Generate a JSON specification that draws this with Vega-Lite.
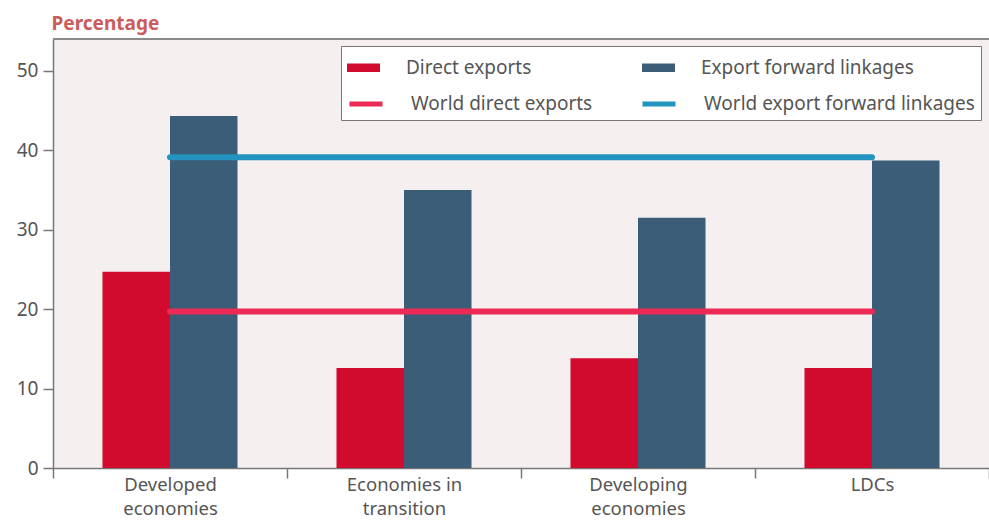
{
  "$schema": "https://vega.github.io/schema/vega-lite/v6.json",
  "autosize": {"type": "none"},
  "padding": {"left": 53, "top": 39, "right": 0, "bottom": 55},
  "width": 936,
  "height": 429,
  "background": "white",
  "config": {
    "font": "Noto Sans",
    "view": {"fill": "#f6eff0", "stroke": null},
    "axis": {"labelFont": "Noto Sans", "labelFontSize": 19, "labelColor": "#555555", "domainColor": "#777777", "tickColor": "#777777", "domainWidth": 1.5, "tickWidth": 1.5, "grid": false},
    "legend": {"labelFont": "Noto Sans", "labelFontSize": 19, "labelColor": "#555555", "labelLimit": 400, "labelOffset": 26, "symbolSize": 1089, "symbolOpacity": 1}
  },
  "data": {
    "values": [
      {"category": "Developed economies", "series": "Direct exports", "value": 24.7, "type": "bar"},
      {"category": "Developed economies", "series": "Export forward linkages", "value": 44.3, "type": "bar"},
      {"category": "Economies in transition", "series": "Direct exports", "value": 12.6, "type": "bar"},
      {"category": "Economies in transition", "series": "Export forward linkages", "value": 35.0, "type": "bar"},
      {"category": "Developing economies", "series": "Direct exports", "value": 13.8, "type": "bar"},
      {"category": "Developing economies", "series": "Export forward linkages", "value": 31.5, "type": "bar"},
      {"category": "LDCs", "series": "Direct exports", "value": 12.6, "type": "bar"},
      {"category": "LDCs", "series": "Export forward linkages", "value": 38.7, "type": "bar"},
      {"category": "Developed economies", "series": "World direct exports", "value": 19.7, "type": "line"},
      {"category": "Economies in transition", "series": "World direct exports", "value": 19.7, "type": "line"},
      {"category": "Developing economies", "series": "World direct exports", "value": 19.7, "type": "line"},
      {"category": "LDCs", "series": "World direct exports", "value": 19.7, "type": "line"},
      {"category": "Developed economies", "series": "World export forward linkages", "value": 39.1, "type": "line"},
      {"category": "Economies in transition", "series": "World export forward linkages", "value": 39.1, "type": "line"},
      {"category": "Developing economies", "series": "World export forward linkages", "value": 39.1, "type": "line"},
      {"category": "LDCs", "series": "World export forward linkages", "value": 39.1, "type": "line"}
    ]
  },
  "encoding": {
    "x": {
      "field": "category",
      "type": "nominal",
      "sort": ["Developed economies", "Economies in transition", "Developing economies", "LDCs"],
      "scale": {"paddingInner": 0, "paddingOuter": 0},
      "axis": {
        "title": null,
        "labelAngle": 0,
        "tickBand": "extent",
        "tickSize": 10,
        "labelPadding": -3,
        "labelFontSize": 18.5,
        "labelLineHeight": 24,
        "labelBaseline": "top",
        "labelExpr": "datum.label === 'LDCs' ? 'LDCs' : datum.label === 'Economies in transition' ? ['Economies in', 'transition'] : split(datum.label, ' ')"
      }
    },
    "y": {
      "field": "value",
      "type": "quantitative",
      "scale": {"domain": [0, 54], "nice": false},
      "axis": {
        "values": [0, 10, 20, 30, 40, 50],
        "tickSize": 10,
        "labelPadding": 5,
        "title": "Percentage",
        "titleAngle": 0,
        "titleAlign": "left",
        "titleBaseline": "alphabetic",
        "titleX": -2,
        "titleY": -10,
        "titleFont": "Noto Sans",
        "titleFontSize": 19,
        "titleFontWeight": "bold",
        "titleColor": "#cc5b5b"
      }
    }
  },
  "layer": [
    {
      "mark": {"type": "rule", "color": "#8a8a8a", "strokeWidth": 1.5},
      "encoding": {"y": {"datum": 54, "type": "quantitative"}, "x": null}
    },
    {
      "transform": [{"filter": "datum.type === 'bar'"}],
      "mark": {"type": "bar", "opacity": 1},
      "encoding": {
        "xOffset": {"field": "series", "type": "nominal", "scale": {"paddingInner": 0, "paddingOuter": 0.733}},
        "color": {
          "field": "series",
          "type": "nominal",
          "scale": {
            "domain": ["Direct exports", "Export forward linkages", "World direct exports", "World export forward linkages"],
            "range": ["#d10a2e", "#3b5d78", "#ec2a55", "#2394bf"]
          },
          "legend": {
            "title": null,
            "values": ["Direct exports", "Export forward linkages"],
            "orient": "none",
            "legendX": 294,
            "legendY": 12,
            "direction": "horizontal",
            "columns": 2,
            "columnPadding": 110,
            "padding": 0,
            "zindex": 2,
            "symbolType": "M-1,-0.26H1V0.26H-1Z",
            "symbolStrokeWidth": 0
          }
        }
      }
    },
    {
      "transform": [{"filter": "datum.type === 'line'"}],
      "mark": {"type": "line", "strokeWidth": 6, "strokeCap": "round", "opacity": 1},
      "encoding": {
        "detail": {"field": "series"},
        "color": {
          "field": "series",
          "type": "nominal",
          "legend": {
            "title": "\u00a0",
            "titleFontSize": 19,
            "titlePadding": 14,
            "values": ["World direct exports", "World export forward linkages"],
            "orient": "none",
            "legendX": 288,
            "legendY": 7,
            "direction": "horizontal",
            "columns": 2,
            "columnPadding": 39,
            "padding": 6,
            "zindex": 1,
            "fillColor": "white",
            "strokeColor": "#777777",
            "symbolType": "stroke",
            "symbolStrokeWidth": 5
          }
        }
      }
    }
  ],
  "resolve": {"legend": {"color": "independent"}}
}
